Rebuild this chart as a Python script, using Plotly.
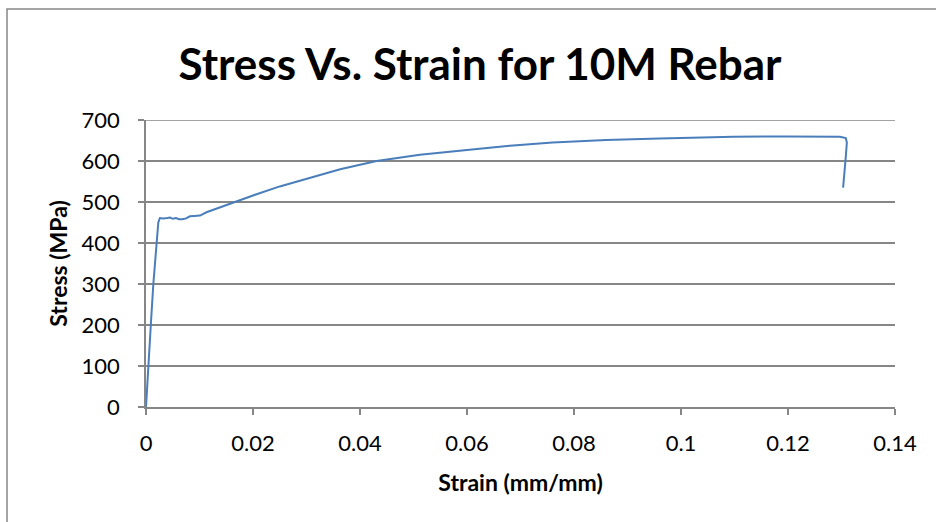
import plotly.graph_objects as go

strain = [0, 0.0004, 0.0009, 0.00137, 0.0020, 0.0023, 0.0026, 0.0032, 0.0040, 0.0045,
          0.0050, 0.0056, 0.0062, 0.0068, 0.0075, 0.0082, 0.0090, 0.0101, 0.0113,
          0.0140, 0.0170, 0.0200, 0.0250, 0.0307, 0.0363, 0.0431, 0.0475, 0.0512,
          0.0600, 0.0680, 0.0760, 0.0860, 0.0960, 0.1098, 0.1200, 0.1297, 0.1308,
          0.1310, 0.1308, 0.1305, 0.1303]
stress = [0, 100, 200, 300, 400, 450, 461, 460, 461, 462,
          459, 461, 458, 458, 460, 465, 466, 467, 475,
          488, 502, 516, 538, 560, 580, 600, 608, 615,
          627, 637, 645, 651, 655, 659, 660, 659, 656,
          645, 610, 570, 535]

x_ticks = [0, 0.02, 0.04, 0.06, 0.08, 0.1, 0.12, 0.14]
x_tick_labels = ["0", "0.02", "0.04", "0.06", "0.08", "0.1", "0.12", "0.14"]
y_ticks = [0, 100, 200, 300, 400, 500, 600, 700]

W, H = 936, 522
ml, mr, mt, mb = 146, 41, 120, 115
pw, ph = W - ml - mr, H - mt - mb

def px_to_paper_x(px):
    return (px - ml) / pw

def px_to_paper_y(py):
    return 1 + (mt - py) / ph

fig = go.Figure()
fig.add_trace(go.Scatter(x=strain, y=stress, mode="lines",
                         line=dict(color="#4a7ebb", width=2), showlegend=False))

grey = "#868686"
font_family = "Lato, 'Open Sans', sans-serif"

fig.update_layout(
    width=W, height=H,
    margin=dict(l=ml, r=mr, t=mt, b=mb),
    paper_bgcolor="white", plot_bgcolor="white",
    font=dict(family=font_family, color="black"),
    title=dict(text="<b>Stress Vs. Strain for 10M Rebar</b>",
               x=px_to_paper_x(480), xref="paper", xanchor="center",
               y=1 - 65 / H, yref="container", yanchor="middle",
               font=dict(size=44, family=font_family, color="black")),
    xaxis=dict(range=[0, 0.14], tickvals=x_ticks, ticktext=x_tick_labels,
               showgrid=False, zeroline=False, showline=True, linecolor=grey, linewidth=1.5,
               ticks="outside", ticklen=6, tickcolor=grey, tickwidth=1.5,
               ticklabelstandoff=10,
               tickfont=dict(size=22, color="black"),
               title=dict(text="<b>Strain (mm/mm)</b>", font=dict(size=23, color="black"),
                          standoff=20)),
    yaxis=dict(range=[0, 700], tickvals=y_ticks,
               showgrid=True, gridcolor=grey, gridwidth=1.5, zeroline=False,
               showline=True, linecolor=grey, linewidth=1.5,
               ticks="outside", ticklen=6, tickcolor=grey, tickwidth=1.5,
               ticklabelstandoff=14,
               tickfont=dict(size=22, color="black"),
               title=dict(text="<b>Stress (MPa)</b>", font=dict(size=23, color="black"),
                          standoff=8)),
    shapes=[dict(type="rect", xref="paper", yref="paper",
                 x0=px_to_paper_x(7), x1=px_to_paper_x(960),
                 y0=px_to_paper_y(540), y1=px_to_paper_y(9),
                 line=dict(color=grey, width=1.5), fillcolor="rgba(0,0,0,0)",
                 layer="below"),
            dict(type="line", xref="paper", yref="y", x0=0, x1=1, y0=700, y1=700,
                 line=dict(color=grey, width=1.5), layer="below")],
)

fig.write_html("out.html")
